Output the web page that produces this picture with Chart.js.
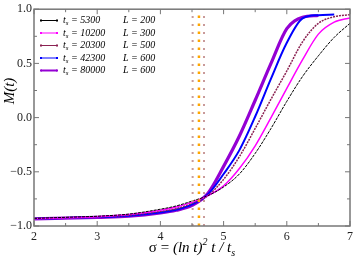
<!DOCTYPE html>
<html>
<head>
<meta charset="utf-8">
<script src="https://cdn.jsdelivr.net/npm/chart.js@4.4.1/dist/chart.umd.min.js"></script>
<style>
  html, body { margin: 0; padding: 0; background: #fff; }
  #wrap { width: 357px; height: 261px; position: relative; }
</style>
</head>
<body>
<div id="wrap"><canvas id="c"></canvas></div>
<script>
// sigma values shared by all curves
const sigma = [2, 2.5, 3, 3.5, 4, 4.25, 4.5, 4.75, 5, 5.25, 5.5, 5.75, 6, 6.25, 6.5, 6.75, 7];

// M(t) for each run
const m5300 = [-0.93, -0.92, -0.91, -0.89, -0.845, -0.815, -0.77, -0.72, -0.64, -0.52, -0.33, -0.10, 0.15, 0.38, 0.57, 0.74, 0.87];
const m10200 = [-0.932, -0.925, -0.915, -0.895, -0.855, -0.825, -0.78, -0.72, -0.63, -0.47, -0.26, 0.00, 0.27, 0.535, 0.77, 0.88, 0.92];
const m20300 = [-0.932, -0.925, -0.915, -0.90, -0.865, -0.84, -0.79, -0.72, -0.57, -0.36, -0.10, 0.17, 0.43, 0.70, 0.87, 0.93, 0.95];
const m42300 = [-0.933, -0.926, -0.918, -0.905, -0.875, -0.85, -0.80, -0.71, -0.52, -0.30, 0.01, 0.36, 0.69, 0.915, 0.945, 0.95, null];
const m80000 = [-0.935, -0.928, -0.92, -0.91, -0.88, -0.855, -0.81, -0.70, -0.45, -0.17, 0.16, 0.50, 0.82, 0.925, 0.942, null, null];

// legend entries
const tsLabels = ["5300", "10200", "20300", "42300", "80000"];
const lLabels = ["200", "300", "500", "600", "600"];
const colors = ["#000000", "#ff00ff", "#8b2252", "#0000ff", "#9400d3"];
const widths = [1, 1.5, 1.5, 2, 3.2];

// dotted vertical markers
const vLines = [4.51, 4.61, 4.69];
const vColors = ["#c99a9a", "#ffa500", "#c99a9a"];

// tick values
const xTicks = [2, 3, 4, 5, 6, 7];
const yTicks = [-1, -0.5, 0, 0.5, 1];

const series = [m5300, m10200, m20300, m42300, m80000];

const datasets = series.map((vals, i) => ({
  data: sigma.map((s, k) => ({ x: s, y: vals[k] })).filter(p => p.y !== null),
  borderColor: colors[i],
  backgroundColor: colors[i],
  borderWidth: widths[i],
  borderDash: i === 0 ? [3, 1] : (i === 2 ? [2, 1] : []),
  pointRadius: 0,
  cubicInterpolationMode: "monotone",
}));

vLines.forEach((v, i) => {
  datasets.unshift({
    data: [{ x: v, y: -1 }, { x: v, y: 1 }],
    borderColor: vColors[i],
    borderWidth: i === 1 ? 2.5 : 2,
    borderDash: i === 1 ? [2.5, 5.5] : [2, 6],
    pointRadius: 0,
  });
});

// draw text pieces one after the other (for sub/superscripts)
function drawPieces(ctx, x, y, pieces) {
  let cx = x;
  pieces.forEach(p => {
    ctx.font = p.font;
    ctx.fillText(p.text, cx, y + (p.dy || 0));
    cx += ctx.measureText(p.text).width;
  });
  return cx;
}
function piecesWidth(ctx, pieces) {
  let w = 0;
  pieces.forEach(p => { ctx.font = p.font; w += ctx.measureText(p.text).width; });
  return w;
}

const serif = "'Liberation Serif', 'DejaVu Serif', serif";

const framePlugin = {
  id: "frame",
  afterDraw(chart) {
    const ctx = chart.ctx;
    const a = chart.chartArea;
    const xs = chart.scales.x;
    const ys = chart.scales.y;
    ctx.save();
    ctx.strokeStyle = "#777";
    ctx.lineWidth = 1.5;
    ctx.strokeRect(a.left, a.top, a.right - a.left, a.bottom - a.top);

    // inward ticks on all four sides
    ctx.lineWidth = 1;
    ctx.beginPath();
    for (let v = 2; v <= 7.001; v += 0.5) {
      const px = xs.getPixelForValue(v);
      const len = Math.abs(v - Math.round(v)) < 0.01 ? 5 : 3;
      ctx.moveTo(px, a.bottom); ctx.lineTo(px, a.bottom - len);
      ctx.moveTo(px, a.top); ctx.lineTo(px, a.top + len);
    }
    for (let v = -1; v <= 1.001; v += 0.25) {
      const py = ys.getPixelForValue(v);
      const len = Math.abs(v * 2 - Math.round(v * 2)) < 0.01 ? 5 : 3;
      ctx.moveTo(a.left, py); ctx.lineTo(a.left + len, py);
      ctx.moveTo(a.right, py); ctx.lineTo(a.right - len, py);
    }
    ctx.stroke();

    // legend
    ctx.fillStyle = "#000";
    ctx.textBaseline = "middle";
    const it = "italic 10px " + serif;
    const sub = "italic 7px " + serif;
    tsLabels.forEach((ts, i) => {
      const y = 20.5 + i * 12.5;
      ctx.strokeStyle = colors[i];
      ctx.lineWidth = i === 4 ? 2 : 1;
      ctx.beginPath();
      ctx.moveTo(41, y); ctx.lineTo(57, y);
      ctx.stroke();
      ctx.fillStyle = colors[i];
      ctx.fillRect(40, y - 1, 2, 2);
      ctx.fillRect(56, y - 1, 2, 2);
      ctx.fillStyle = "#000";
      drawPieces(ctx, 63, y, [
        { text: "t", font: it },
        { text: "s", font: sub, dy: 3 },
        { text: " = " + ts, font: it },
      ]);
      drawPieces(ctx, 123, y, [{ text: "L = " + lLabels[i], font: it }]);
    });

    // axis titles
    ctx.textBaseline = "alphabetic";
    const tf = "15px " + serif;
    const ti = "italic 15px " + serif;
    const xt = [
      { text: "σ = ", font: tf },
      { text: "(ln t)", font: ti },
      { text: "2", font: "italic 10px " + serif, dy: -7 },
      { text: " t / t", font: ti },
      { text: "s", font: "italic 10px " + serif, dy: 4 },
    ];
    const w = piecesWidth(ctx, xt);
    drawPieces(ctx, (a.left + a.right) / 2 - w / 2, 252, xt);

    ctx.translate(14, 91);
    ctx.rotate(-Math.PI / 2);
    const yt = [{ text: "M(t)", font: ti }];
    const wy = piecesWidth(ctx, yt);
    drawPieces(ctx, -wy / 2, 0, yt);
    ctx.restore();
  }
};

new Chart(document.getElementById("c"), {
  type: "line",
  data: { datasets },
  options: {
    responsive: true,
    maintainAspectRatio: false,
    animation: false,
    layout: { padding: { left: 0, right: 4, top: 4, bottom: 0 } },
    plugins: { legend: { display: false }, tooltip: { enabled: false } },
    scales: {
      x: {
        type: "linear",
        min: 2,
        max: 7,
        grid: { display: false, drawTicks: false },
        border: { display: false },
        afterFit: s => { s.height = 35; },
        afterBuildTicks: s => { s.ticks = xTicks.map(v => ({ value: v })); },
        ticks: {
          padding: 4,
          color: "#222",
          font: { family: serif, size: 12 },
          callback: v => String(v),
        },
      },
      y: {
        min: -1,
        max: 1,
        grid: { display: false, drawTicks: false },
        border: { display: false },
        afterFit: s => { s.width = 34; },
        afterBuildTicks: s => { s.ticks = yTicks.map(v => ({ value: v })); },
        ticks: {
          padding: 2,
          color: "#222",
          font: { family: serif, size: 12 },
          callback: v => (v < 0 ? "\u2212" : "") + Math.abs(v).toFixed(1),
        },
      },
    },
  },
  plugins: [framePlugin],
});
</script>
</body>
</html>
